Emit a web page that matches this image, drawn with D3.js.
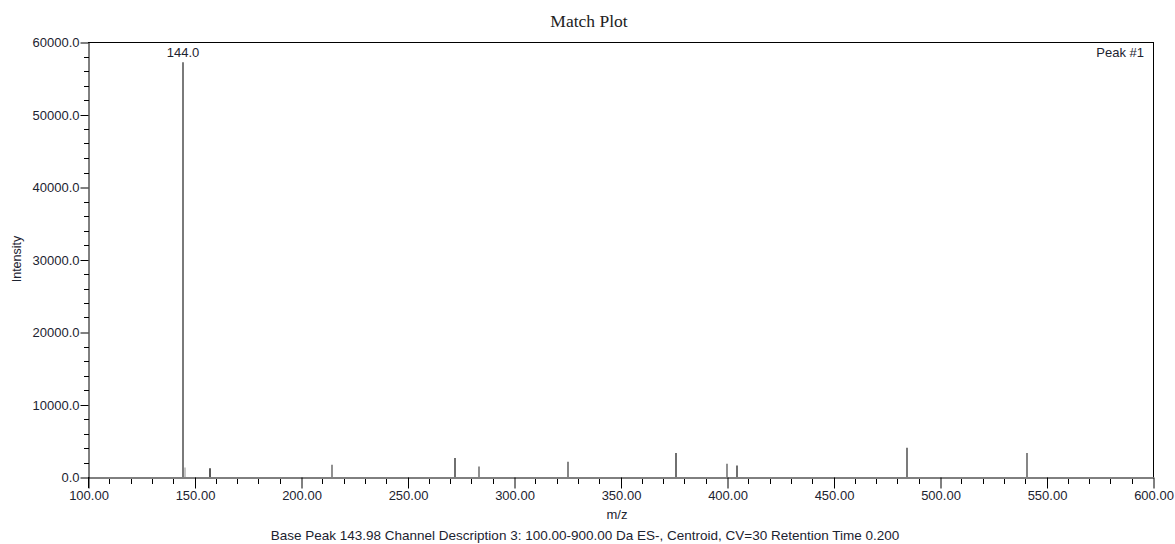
<!DOCTYPE html>
<html>
<head>
<meta charset="utf-8">
<script src="https://cdn.jsdelivr.net/npm/d3@7"></script>
<style>
  html, body { margin: 0; padding: 0; background: #fff; }
  svg { display: block; }
</style>
</head>
<body>
<svg id="chart" width="1175" height="544"></svg>
<script>
// Centroid peaks: m/z and intensity
const mzValues = [144.0, 145.0, 157.0, 214.0, 271.7, 283.0, 325.0, 375.6, 399.4, 404.0, 483.9, 540.6];
const intensities = [57200, 1300, 1200, 1700, 2620, 1460, 2110, 3310, 1840, 1600, 4050, 3310];
const peakColors = ["#7a7a7a", "#a8a8a8", "#000", "#555", "#222", "#555", "#444", "#222", "#555", "#222", "#333", "#444"];

const xTicks = [100, 150, 200, 250, 300, 350, 400, 450, 500, 550, 600];
const yTicks = [0, 10000, 20000, 30000, 40000, 50000, 60000];
const labelledPeak = 144.0;

(function draw() {
  const svg = d3.select("#chart");
  const plotLeft = 88, plotRight = 1153, plotTop = 42, plotBottom = 477;
  const textColor = "#1c2330";
  const sans = "'Liberation Sans', Arial, sans-serif";

  const x = d3.scaleLinear().domain([100, 600]).range([plotLeft, plotRight]);
  const y = d3.scaleLinear().domain([0, 60000]).range([plotBottom, plotTop]);

  // Title
  svg.append("text")
    .attr("x", 589).attr("y", 27)
    .attr("text-anchor", "middle")
    .attr("font-family", "'Liberation Serif', 'Times New Roman', serif")
    .attr("font-size", 17.5)
    .attr("fill", "#222")
    .text("Match Plot");

  // Frame top and right
  svg.append("line").attr("x1", plotLeft).attr("x2", plotRight + 0.5).attr("y1", plotTop + 0.5).attr("y2", plotTop + 0.5)
    .attr("stroke", "#000");
  svg.append("line").attr("x1", plotRight + 0.5).attr("x2", plotRight + 0.5).attr("y1", plotTop).attr("y2", plotBottom)
    .attr("stroke", "#000");

  // X axis: major ticks every 50, minor every 10
  const xAxis = d3.axisBottom(x).tickValues(xTicks).tickFormat(d3.format(".2f")).tickSize(11).tickSizeOuter(0);
  const gx = svg.append("g").attr("transform", `translate(0.5,${plotBottom + 0.5})`).call(xAxis);
  gx.selectAll("text").attr("font-family", sans).attr("font-size", 13)
    .attr("fill", textColor).attr("dy", "0.71em").attr("y", 13);
  gx.select(".domain").attr("stroke", "#000");
  gx.selectAll(".tick line").attr("stroke", "#000");
  const xMinor = d3.range(110, 600, 10).filter(v => v % 50 !== 0);
  svg.append("g").selectAll("line").data(xMinor).join("line")
    .attr("x1", d => Math.round(x(d)) + 0.5).attr("x2", d => Math.round(x(d)) + 0.5)
    .attr("y1", plotBottom + 2).attr("y2", plotBottom + 7)
    .attr("stroke", "#000");

  // Y axis: major ticks every 10000, minor every 2000
  const yAxis = d3.axisLeft(y).tickValues(yTicks).tickFormat(d3.format(".1f")).tickSize(8).tickSizeOuter(0);
  const gy = svg.append("g").attr("transform", `translate(${plotLeft + 0.5},0.5)`).call(yAxis);
  gy.selectAll("text").attr("font-family", sans).attr("font-size", 13)
    .attr("fill", textColor).attr("x", -9);
  gy.select(".domain").attr("stroke", "#000");
  gy.selectAll(".tick line").attr("stroke", "#000");
  // y-axis line continues below the x-axis
  svg.append("line").attr("x1", plotLeft + 0.5).attr("x2", plotLeft + 0.5).attr("y1", plotBottom).attr("y2", plotBottom + 11)
    .attr("stroke", "#000");
  const yMinor = d3.range(2000, 60000, 2000).filter(v => v % 10000 !== 0);
  svg.append("g").selectAll("line").data(yMinor).join("line")
    .attr("x1", plotLeft - 4).attr("x2", plotLeft + 1)
    .attr("y1", d => Math.round(y(d)) + 0.5).attr("y2", d => Math.round(y(d)) + 0.5)
    .attr("stroke", "#000");

  // Peaks as sticks
  const peaks = mzValues.map((mz, i) => ({ mz, v: intensities[i], c: peakColors[i] }));
  svg.append("g").selectAll("line").data(peaks).join("line")
    .attr("x1", d => Math.round(x(d.mz)) + 1).attr("x2", d => Math.round(x(d.mz)) + 1)
    .attr("y1", y(0)).attr("y2", d => y(d.v))
    .attr("stroke", d => d.c)
    .attr("stroke-width", d => d.mz === labelledPeak ? 2 : 1.3);

  // Base peak label
  const base = peaks.find(d => d.mz === labelledPeak);
  svg.append("text")
    .attr("x", Math.round(x(base.mz)) + 1).attr("y", y(base.v) - 5)
    .attr("text-anchor", "middle")
    .attr("font-family", sans).attr("font-size", 13)
    .attr("fill", textColor)
    .text(d3.format(".1f")(base.mz));

  // Peak tag, top right
  svg.append("text")
    .attr("x", 1144).attr("y", 57)
    .attr("text-anchor", "end")
    .attr("font-family", sans).attr("font-size", 13)
    .attr("fill", textColor)
    .text("Peak #1");

  // Axis titles
  svg.append("text")
    .attr("x", 617).attr("y", 519)
    .attr("text-anchor", "middle")
    .attr("font-family", sans).attr("font-size", 13)
    .attr("fill", textColor)
    .text("m/z");

  svg.append("text")
    .attr("transform", "translate(21,259) rotate(-90)")
    .attr("text-anchor", "middle")
    .attr("font-family", sans).attr("font-size", 12.5)
    .attr("fill", textColor)
    .text("Intensity");

  // Footer description
  svg.append("text")
    .attr("x", 585).attr("y", 540)
    .attr("text-anchor", "middle")
    .attr("font-family", sans).attr("font-size", 13.5)
    .attr("fill", textColor)
    .text("Base Peak 143.98 Channel Description 3: 100.00-900.00 Da ES-, Centroid, CV=30 Retention Time 0.200");
})();
</script>
</body>
</html>
